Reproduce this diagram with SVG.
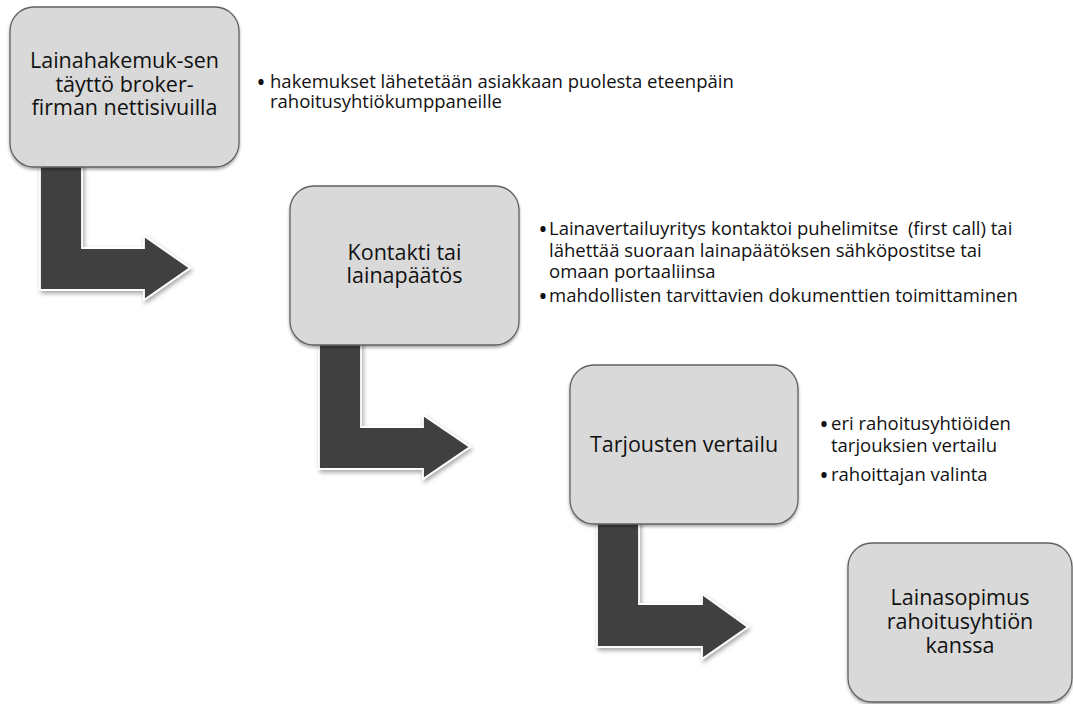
<svg xmlns="http://www.w3.org/2000/svg" width="1073" height="704" viewBox="0 0 1073 704">
<defs>
<filter id="boxShadow" x="-10%" y="-10%" width="120%" height="125%">
<feDropShadow dx="0" dy="2" stdDeviation="1.8" flood-color="#000" flood-opacity="0.35"/>
</filter>
<filter id="arrowShadow" x="-20%" y="-20%" width="150%" height="150%">
<feDropShadow dx="1.5" dy="2.5" stdDeviation="2" flood-color="#000" flood-opacity="0.35"/>
</filter>
</defs>
<style>
.box{fill:#d9d9d9;stroke:#626262;stroke-width:1.3;filter:url(#boxShadow)}
.arrow{fill:#404040;stroke:#ffffff;stroke-width:1.8;stroke-linejoin:miter;filter:url(#arrowShadow)}
.lbl{font-family:"Open Sans","Noto Sans","DejaVu Sans",sans-serif;font-size:21.5px;fill:#111;text-anchor:middle}
.note{font-family:"Open Sans","Noto Sans","DejaVu Sans",sans-serif;font-size:18.5px;fill:#111}
.bul{font-family:"Open Sans","Noto Sans","DejaVu Sans",sans-serif;font-size:25px;fill:#111;text-anchor:middle}
</style>
<rect width="1073" height="704" fill="#ffffff"/>
<g id="connectors">
<path class="arrow" d="M40,160 H82 V248 H144 V236 L190,268 L144,300 V290 H40 Z"/>
<path class="arrow" d="M319,340 H361 V427 H423 V415 L470,447 L423,479 V469 H319 Z"/>
<path class="arrow" d="M597,518 H639 V604 H702 V594 L748,627 L702,659 V647 H597 Z"/>
</g>
<g id="node1">
<rect class="box" x="10" y="7" width="229" height="160" rx="24" ry="24"/>
<text class="lbl" x="124.5" y="68">Lainahakemuk-sen</text>
<text class="lbl" x="124.5" y="92">täyttö broker-</text>
<text class="lbl" x="124.5" y="115">firman nettisivuilla</text>
</g>
<g id="node2">
<rect class="box" x="290" y="186" width="229" height="159" rx="24" ry="24"/>
<text class="lbl" x="404.5" y="260">Kontakti tai</text>
<text class="lbl" x="404.5" y="283">lainapäätös</text>
</g>
<g id="node3">
<rect class="box" x="570" y="365" width="228" height="159" rx="24" ry="24"/>
<text class="lbl" x="684" y="452">Tarjousten vertailu</text>
</g>
<g id="node4">
<rect class="box" x="848" y="543" width="224" height="159" rx="24" ry="24"/>
<text class="lbl" x="960" y="605">Lainasopimus</text>
<text class="lbl" x="960" y="629">rahoitusyhtiön</text>
<text class="lbl" x="960" y="653">kanssa</text>
</g>
<g id="notes1">
<text class="bul" x="261" y="91">•</text>
<text class="note" x="270" y="88">hakemukset lähetetään asiakkaan puolesta eteenpäin</text>
<text class="note" x="270" y="108">rahoitusyhtiökumppaneille</text>
</g>
<g id="notes2">
<text class="bul" x="543" y="238">•</text>
<text class="note" x="549" y="235" xml:space="preserve">Lainavertailuyritys kontaktoi puhelimitse  (first call) tai</text>
<text class="note" x="549" y="257">lähettää suoraan lainapäätöksen sähköpostitse tai</text>
<text class="note" x="549" y="278">omaan portaaliinsa</text>
<text class="bul" x="543" y="305">•</text>
<text class="note" x="549" y="302">mahdollisten tarvittavien dokumenttien toimittaminen</text>
</g>
<g id="notes3">
<text class="bul" x="824" y="433">•</text>
<text class="note" x="831" y="430">eri rahoitusyhtiöiden</text>
<text class="note" x="831" y="452">tarjouksien vertailu</text>
<text class="bul" x="824" y="484">•</text>
<text class="note" x="831" y="481">rahoittajan valinta</text>
</g>
</svg>
